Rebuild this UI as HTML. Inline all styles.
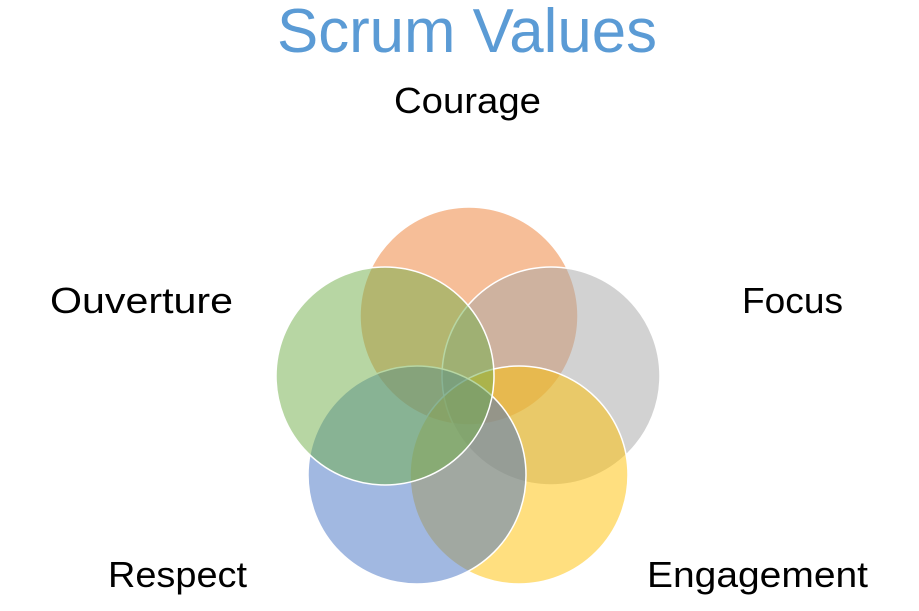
<!DOCTYPE html>
<html><head><meta charset="utf-8"><style>html,body{margin:0;padding:0;background:#fff}svg{display:block}</style></head>
<body>
<svg width="919" height="611" viewBox="0 0 919 611" xmlns="http://www.w3.org/2000/svg" font-family="Liberation Sans, sans-serif">
<rect width="919" height="611" fill="#fff"/>
<text x="277" y="52" font-size="62" fill="#5B9BD5" textLength="380" lengthAdjust="spacingAndGlyphs">Scrum Values</text>
<g font-size="36" fill="#000">
<text x="394" y="113" textLength="147" lengthAdjust="spacingAndGlyphs">Courage</text>
<text x="50" y="313" textLength="183" lengthAdjust="spacingAndGlyphs">Ouverture</text>
<text x="742" y="313" textLength="101" lengthAdjust="spacingAndGlyphs">Focus</text>
<text x="108" y="587" textLength="139" lengthAdjust="spacingAndGlyphs">Respect</text>
<text x="647" y="587" textLength="221" lengthAdjust="spacingAndGlyphs">Engagement</text>
</g>
<g stroke="#fff" stroke-width="1.5">
<circle cx="469" cy="316" r="109" fill="#ED7D31" fill-opacity="0.5"/>
<circle cx="551" cy="376" r="109" fill="#A5A5A5" fill-opacity="0.5"/>
<circle cx="519" cy="475" r="109" fill="#FFC000" fill-opacity="0.5"/>
<circle cx="417" cy="475" r="109" fill="#4472C4" fill-opacity="0.5"/>
<circle cx="385" cy="376" r="109" fill="#70AD47" fill-opacity="0.5"/>
</g>
</svg>
</body></html>
